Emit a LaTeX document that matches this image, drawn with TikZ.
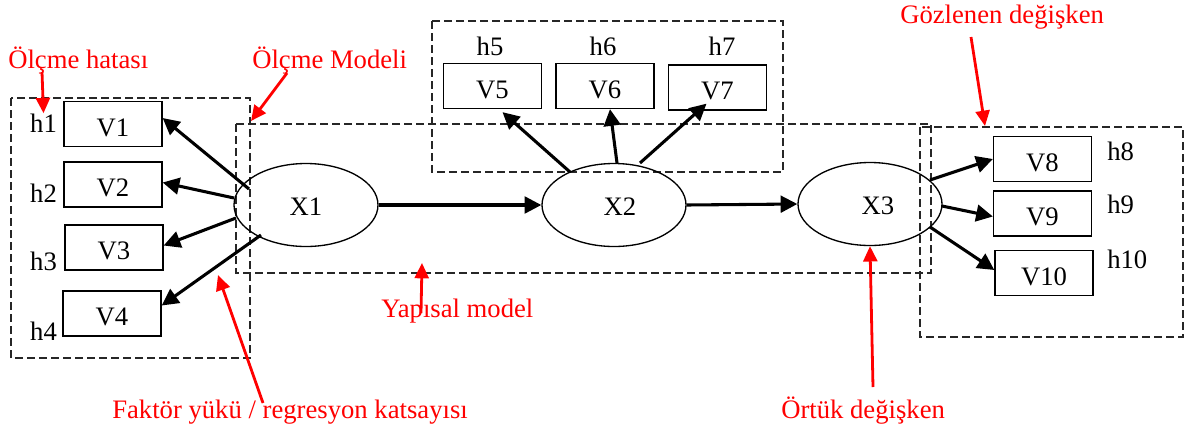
\documentclass[tikz,border=0pt]{standalone}
\usepackage{fontspec}
\setmainfont{Liberation Serif}
\usetikzlibrary{arrows.meta,shapes.geometric}

\begin{document}
\begin{tikzpicture}[x=0.75pt,y=-0.75pt,
  every node/.style={font=\fontsize{20pt}{24pt}\selectfont, inner sep=0pt},
  obs/.style={draw, line width=1pt, minimum width=73.5pt, minimum height=33.75pt,
              text height=18pt, text depth=0pt},
  latent/.style={draw, ellipse, line width=1pt, minimum width=108pt, minimum height=62.25pt,
                 text height=16pt, text depth=0pt},
  grp/.style={draw=black!85, line width=1.2pt, dash pattern=on 6pt off 3pt},
  load/.style={line width=2.3pt, -{Triangle[length=12.5pt,width=12.5pt]}},
  note/.style={text=red, anchor=base west},
  pointer/.style={draw=red, line width=2.1pt, -{Triangle[length=11.5pt,width=10.5pt]}},
  err/.style={anchor=base}
]
\useasboundingbox (0,0) rectangle (1189,433);

% group outlines
\draw[grp] (11,98) rectangle (250,358);
\draw[grp] (236,124) rectangle (931,273);
\draw[grp] (432,21) rectangle (783,172);
\draw[grp] (920,127) rectangle (1183,337);

% latent variables
\node[latent] (X1) at (306,205) {X1};
\node[latent] (X2) at (614,205) {\hspace*{9pt}X2};
\node[latent] (X3) at (870,204) {\hspace*{12pt}X3};

% observed variables
\node[obs] (V1) at (113,124) {V1};
\node[obs] (V2) at (113,184.5) {V2};
\node[obs] (V3) at (114,247.5) {V3};
\node[obs] (V4) at (112,313.5) {V4};
\node[obs] (V5) at (492.5,86) {V5};
\node[obs] (V6) at (605,86) {V6};
\node[obs] (V7) at (717.5,87.5) {V7};
\node[obs] (V8) at (1042.5,159) {V8};
\node[obs] (V9) at (1042.5,213.5) {V9};
\node[obs] (V10) at (1044,273) {V10};

% error terms
\node[err] (h1) at (43.5,132) {h1};
\node[err] (h2) at (43.5,202) {h2};
\node[err] (h3) at (43.5,270) {h3};
\node[err] (h4) at (43.5,340) {h4};
\node[err] (h5) at (490,55) {h5};
\node[err] (h6) at (603,55) {h6};
\node[err] (h7) at (722,55) {h7};
\node[anchor=base west] (h8) at (1107,160) {h8};
\node[anchor=base west] (h9) at (1107,213) {h9};
\node[anchor=base west] (h10) at (1107,268) {h10};

% loadings of X1
\draw[load] ([shift={(-57,-16)}]X1.center) -- ([shift={(0,-6)}]V1.east);
\draw[load] ([shift={(-72,-7)}]X1.center) -- ([shift={(0,-2)}]V2.east);
\draw[load] ([shift={(-70,13)}]X1.center) -- ([shift={(0,-2)}]V3.east);
\draw[load] ([shift={(-45,30)}]X1.center) -- ([shift={(0,-8)}]V4.east);

% loadings of X2
\draw[load] ([shift={(-44,-33)}]X2.center) -- ([shift={(10,3)}]V5.south);
\draw[load] ([shift={(3,-42)}]X2.center) -- ([shift={(5,0)}]V6.south);
\draw[load] ([shift={(26,-42)}]X2.center) -- ([shift={(-11,-7)}]V7.south);

% loadings of X3
\draw[load] ([shift={(60,-24)}]X3.center) -- (V8.west);
\draw[load] ([shift={(72,2)}]X3.center) -- ([shift={(0,3)}]V9.west);
\draw[load] ([shift={(60,23)}]X3.center) -- ([shift={(0,-3)}]V10.west);

% structural paths
\draw[load] (X1.east) -- (X2.west);
\draw[load] (X2.east) -- (X3.west);

% annotations
\node[note] (hata) at (8,68) {Ölçme hatası};
\node[note] (olcum) at (252,68) {Ölçme Modeli};
\node[note] (gozlenen) at (900,23) {Gözlenen değişken};
\node[note] (yapisal) at (381,317) {Yapısal model};
\node[note] (faktor) at (112,418) {Faktör yükü / regresyon katsayısı};
\node[note] (ortuk) at (781,418) {Örtük değişken};

\coordinate (modelcorner) at (251,121);
\coordinate (rightbox) at (985,126);
\coordinate (structbottom) at (422,263);
\coordinate (loadingline) at (218,275);

\draw[pointer] ([shift={(34,4)}]hata.base west) -- (h1.north);
\draw[pointer] ([shift={(35,5)}]olcum.base west) -- (modelcorner);
\draw[pointer] ([shift={(71,14)}]gozlenen.base west) -- (rightbox);
\draw[pointer] ([shift={(40,-4)}]yapisal.base west) -- (structbottom);
\draw[pointer] ([shift={(151,-15)}]faktor.base west) -- (loadingline);
\draw[pointer] ([shift={(92,-31)}]ortuk.base west) -- (X3.south);
\end{tikzpicture}
\end{document}
